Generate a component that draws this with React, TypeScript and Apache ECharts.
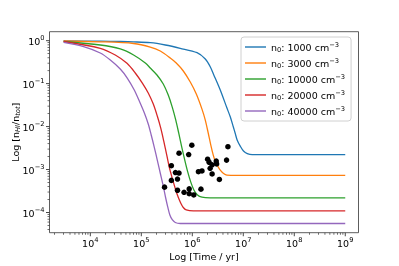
import React, { useEffect, useRef } from 'react';
import * as echarts from 'echarts';

const FONT = 'DejaVu Sans';

const densities = [1000, 3000, 10000, 20000, 40000];
const colors = ['#1f77b4', '#ff7f0e', '#2ca02c', '#d62728', '#9467bd'];

const curve1000: [number, number][] = [
  [3.0e3, 0.984], [1.6e4, 0.975], [3.9e4, 0.958], [7.0e4, 0.94], [1.5e5, 0.898], [2.96e5, 0.794],
  [5.8e5, 0.665], [1.24e6, 0.525], [1.8e6, 0.374], [2.25e6, 0.248], [2.62e6, 0.164], [3.54e6, 0.071],
  [4.79e6, 0.027], [5.56e6, 0.0169], [6.37e6, 9.9e-3], [6.97e6, 6.9e-3], [7.62e6, 4.8e-3],
  [8.73e6, 3.5e-3], [1.01e7, 2.7e-3], [1.2e7, 2.35e-3], [1.5e7, 2.23e-3], [1e9, 2.23e-3],
];
const curve3000: [number, number][] = [
  [3.0e3, 0.984], [1.57e4, 0.943], [7.06e4, 0.861], [1.5e5, 0.713], [2.36e5, 0.575], [3.7e5, 0.395],
  [4.85e5, 0.302], [6.67e5, 0.197], [9.14e5, 0.109], [1.2e6, 0.0573], [1.55e6, 0.0255], [1.8e6, 0.0142],
  [2.06e6, 7.0e-3], [2.31e6, 3.7e-3], [2.58e6, 2.16e-3], [2.82e6, 1.57e-3], [3.24e6, 1.14e-3],
  [3.54e6, 9.7e-4], [4.05e6, 8.2e-4], [4.79e6, 7.4e-4], [7.52e6, 7.3e-4], [1e9, 7.3e-4],
];
const curve10000: [number, number][] = [
  [3.0e3, 0.958], [1.57e4, 0.794], [3.87e4, 0.641], [7.06e4, 0.464], [1.2e5, 0.302], [1.5e5, 0.231],
  [2.03e5, 0.159], [2.7e5, 0.098], [3.38e5, 0.0542], [4.05e5, 0.0285], [4.75e5, 0.0142], [5.43e5, 7.05e-3],
  [6.22e5, 3.33e-3], [7.13e5, 1.66e-3], [8.17e5, 8.7e-4], [9.35e5, 5.1e-4], [1.07e6, 3.4e-4],
  [1.25e6, 2.6e-4], [1.55e6, 2.27e-4], [2.25e6, 2.19e-4], [1e9, 2.19e-4],
];
const curve20000: [number, number][] = [
  [3.0e3, 0.958], [1.57e4, 0.665], [3.09e4, 0.464], [5.25e4, 0.297], [7.62e4, 0.177], [1.05e5, 0.103],
  [1.37e5, 0.0604], [1.72e5, 0.0334], [2.06e5, 0.0176], [2.41e5, 9.2e-3], [2.76e5, 4.6e-3], [3.16e5, 2.17e-3],
  [3.62e5, 1.02e-3], [4.15e5, 5.7e-4], [4.75e5, 3.3e-4], [5.31e5, 2.27e-4], [5.96e5, 1.65e-4],
  [6.67e5, 1.31e-4], [7.62e5, 1.15e-4], [1.05e6, 1.09e-4], [1e9, 1.09e-4],
];
const curve40000: [number, number][] = [
  [3.0e3, 0.918], [7.4e3, 0.732], [1.57e4, 0.517], [2.47e4, 0.355], [3.87e4, 0.219], [5.31e4, 0.135],
  [7.29e4, 0.071], [9.14e4, 0.0393], [1.15e5, 0.0207], [1.37e5, 0.01146], [1.57e5, 6.3e-3], [1.8e5, 3.3e-3],
  [2.06e5, 1.66e-3], [2.36e5, 8.2e-4], [2.7e5, 4.1e-4], [3.02e5, 2.15e-4], [3.31e5, 1.33e-4],
  [3.62e5, 8.9e-5], [4.05e5, 6.8e-5], [4.64e5, 5.85e-5], [5.82e5, 5.55e-5], [1e9, 5.55e-5],
];
const curves = [curve1000, curve3000, curve10000, curve20000, curve40000];

const observedTime = [
  2.86e5, 3.89e5, 3.89e5, 4.68e5, 5.5e5, 5.13e5, 5.5e5, 5.13e5, 6.9e5, 8.7e5, 8.7e5, 1.07e6, 8.5e5, 9.8e5,
  1.32e6, 1.55e6, 1.48e6, 2.0e6, 2.14e6, 2.45e6, 2.24e6, 2.45e6, 2.95e6, 3.0e6, 3.4e6, 4.7e6, 5.0e6,
];
const observedFraction = [
  3.9e-4, 1.23e-3, 5.6e-4, 8.5e-4, 8.3e-4, 6.0e-4, 2.4e-3, 3.3e-4, 2.95e-4, 3.55e-4, 2.75e-4, 2.57e-4, 2.24e-3, 3.7e-3,
  8.9e-4, 9.3e-4, 3.5e-4, 1.74e-3, 1.48e-3, 1.29e-3, 1.07e-3, 7.9e-4, 1.58e-3, 1.35e-3, 5.9e-4, 1.66e-3, 3.4e-3,
];

const xMin = 1585;
const xMax = 1.82e9;
const yMin = 3.39e-5;
const yMax = 1.62;
const xMajorTicks = [1e4, 1e5, 1e6, 1e7, 1e8, 1e9];
const yMajorTicks = [1e-4, 1e-3, 1e-2, 1e-1, 1];
const xMinorDecades = [1e3, 1e4, 1e5, 1e6, 1e7, 1e8, 1e9];
const yMinorDecades = [1e-5, 1e-4, 1e-3, 1e-2, 1e-1, 1];
const minorMultipliers = [2, 3, 4, 5, 6, 7, 8, 9];

const xMinor = xMinorDecades.flatMap((d) => minorMultipliers.map((m) => m * d)).filter((v) => v > xMin && v < xMax);
const yMinor = yMinorDecades.flatMap((d) => minorMultipliers.map((m) => m * d)).filter((v) => v > yMin && v < yMax);

const seriesNames = densities.map((d) => `n0: ${d} cm-3`);

const expLabel = (v: number) => {
  const e = Math.round(Math.log10(v));
  const s = e < 0 ? '\u2212' + -e : String(e);
  return `{b|10}{s|${s}}`;
};

const labelRich = {
  b: { fontFamily: FONT, fontSize: 9.5, lineHeight: 12, verticalAlign: 'bottom', color: '#000' },
  s: { fontFamily: FONT, fontSize: 6.7, lineHeight: 5, verticalAlign: 'top', color: '#000' },
};

const TICK = '#333';

export default function App() {
  const ref = useRef<HTMLDivElement>(null);
  useEffect(() => {
    if (!ref.current) return;
    const chart = echarts.init(ref.current, undefined, { renderer: 'svg' });
    const lineSeries = curves.map((c, i) => ({
      type: 'line',
      name: seriesNames[i],
      data: c,
      showSymbol: false,
      symbol: 'none',
      smooth: 0.3,
      lineStyle: { color: colors[i], width: 1.3 },
      itemStyle: { color: colors[i] },
      z: 3,
    }));
    const tickSeries = [
      {
        type: 'scatter', data: xMajorTicks.map((v) => [v, yMin]), symbol: 'rect', symbolSize: [0.9, 3.5],
        symbolOffset: [0, 1.75], itemStyle: { color: TICK, opacity: 1 }, silent: true, clip: false, z: 1,
      },
      {
        type: 'scatter', data: xMinor.map((v) => [v, yMin]), symbol: 'rect', symbolSize: [0.7, 2],
        symbolOffset: [0, 1], itemStyle: { color: TICK, opacity: 1 }, silent: true, clip: false, z: 1,
      },
      {
        type: 'scatter', data: yMajorTicks.map((v) => [xMin, v]), symbol: 'rect', symbolSize: [3.5, 0.9],
        symbolOffset: [-1.75, 0], itemStyle: { color: TICK, opacity: 1 }, silent: true, clip: false, z: 1,
      },
      {
        type: 'scatter', data: yMinor.map((v) => [xMin, v]), symbol: 'rect', symbolSize: [2, 0.7],
        symbolOffset: [-1, 0], itemStyle: { color: TICK, opacity: 1 }, silent: true, clip: false, z: 1,
      },
    ];
    chart.setOption({
      animation: false,
      grid: {
        left: 49.5, right: 40.5, top: 31.7, bottom: 33.3, show: true,
        borderColor: '#333', borderWidth: 0.8, backgroundColor: 'transparent',
        outerBoundsMode: 'none', containLabel: false,
      },
      legend: {
        data: seriesNames,
        orient: 'vertical',
        left: 241,
        top: 37,
        icon: 'rect',
        itemWidth: 21,
        itemHeight: 1.4,
        itemGap: 4,
        padding: [4, 6, 4, 4],
        backgroundColor: 'rgba(255,255,255,0.85)',
        borderColor: '#d0d0d0',
        borderWidth: 1,
        borderRadius: 3,
        formatter: (name: string) => {
          const i = seriesNames.indexOf(name);
          return `n{sub|0}: ${densities[i]} cm{sup|\u22123}`;
        },
        textStyle: {
          fontFamily: FONT, fontSize: 9.5, color: '#000', lineHeight: 12,
          rich: {
            sub: { fontFamily: FONT, fontSize: 6.7, lineHeight: 7, verticalAlign: 'bottom', color: '#000' },
            sup: { fontFamily: FONT, fontSize: 6.7, lineHeight: 7, verticalAlign: 'top', color: '#000' },
          },
        },
      },
      xAxis: {
        type: 'log',
        logBase: 10,
        min: xMin,
        max: xMax,
        name: 'Log [Time / yr]',
        nameLocation: 'middle',
        nameGap: 19,
        nameMoveOverlap: false,
        nameTextStyle: { fontFamily: FONT, fontSize: 9.5, color: '#000' },
        axisLine: { show: false },
        axisTick: { show: false },
        splitLine: { show: false },
        axisLabel: {
          interval: 0, showMinLabel: false, showMaxLabel: false, margin: 4,
          formatter: expLabel, rich: labelRich,
        },
      },
      yAxis: {
        type: 'log',
        logBase: 10,
        min: yMin,
        max: yMax,
        name: 'Log [n{sub|HI}/n{sub|tot}]',
        nameLocation: 'middle',
        nameGap: 28,
        nameMoveOverlap: false,
        nameTextStyle: {
          fontFamily: FONT, fontSize: 9.5, color: '#000', lineHeight: 13,
          rich: { sub: { fontFamily: FONT, fontSize: 6.7, fontStyle: 'italic', lineHeight: 8, verticalAlign: 'bottom', color: '#000' } },
        },
        axisLine: { show: false },
        axisTick: { show: false },
        splitLine: { show: false },
        axisLabel: {
          interval: 0, showMinLabel: false, showMaxLabel: false, margin: 5,
          formatter: expLabel, rich: labelRich,
        },
      },
      series: [
        ...lineSeries,
        ...tickSeries,
        {
          type: 'scatter',
          name: 'observed',
          data: observedTime.map((t, i) => [t, observedFraction[i]]),
          symbol: 'circle',
          symbolSize: 5.5,
          itemStyle: { color: '#000', opacity: 1 },
          z: 5,
        },
      ],
    });
    return () => chart.dispose();
  }, []);
  return <div ref={ref} style={{ position: 'fixed', left: 0, top: 0, width: 399, height: 266 }} />;
}
